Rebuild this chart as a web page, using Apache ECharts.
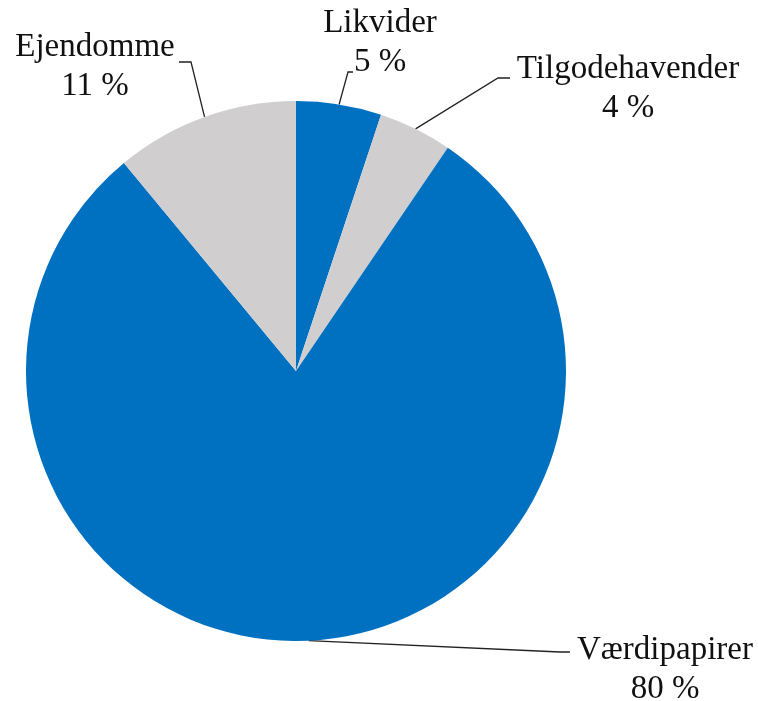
<!DOCTYPE html>
<html>
<head>
<meta charset="utf-8">
<script src="https://cdn.jsdelivr.net/npm/echarts@6/dist/echarts.min.js"></script>
<style>html,body{margin:0;padding:0;background:#fff}#c{width:758px;height:701px}</style>
</head>
<body>
<div id="c"></div>
<script>
const categories = ['Likvider', 'Tilgodehavender', 'Værdipapirer', 'Ejendomme'];
const values = [5.1, 4.4, 79.5, 11.0];
const percentLabels = ['5 %', '4 %', '80 %', '11 %'];
const colors = ['#0070C0', '#D0CECE', '#0070C0', '#D0CECE'];
// label centre positions (layout, not data)
const labelPos = [[380, 43], [628, 89], [665, 670], [95, 67]];
// leader line elbow and end points next to each label (layout)
const leaderEnds = [
  [[348, 72], [353, 72]],
  [[498, 78], [510, 78]],
  [[560, 652], [570, 652]],
  [[191, 62], [179, 62]]
];

const chart = echarts.init(document.getElementById('c'));
chart.setOption({
  animation: false,
  series: [{
    type: 'pie',
    center: [296, 371],
    radius: 270,
    startAngle: 90,
    clockwise: true,
    data: categories.map((c, i) => ({ name: c, value: values[i], itemStyle: { color: colors[i] } })),
    label: {
      show: true,
      position: 'outside',
      formatter: p => p.name + '\n' + percentLabels[p.dataIndex],
      fontFamily: 'Liberation Serif',
      fontSize: 33,
      lineHeight: 39,
      color: '#111',
      align: 'center'
    },
    labelLine: {
      show: true,
      length: 20,
      length2: 10,
      lineStyle: { color: '#222', width: 1.3 }
    },
    labelLayout: function (params) {
      const i = params.dataIndex;
      const p = labelPos[i];
      const res = { x: p[0], y: p[1], align: 'center', verticalAlign: 'middle' };
      if (params.labelLinePoints && params.labelLinePoints.length) {
        const a = params.labelLinePoints[0];
        res.labelLinePoints = [[a[0], a[1]], leaderEnds[i][0], leaderEnds[i][1]];
      }
      return res;
    }
  }]
});
</script>
</body>
</html>
